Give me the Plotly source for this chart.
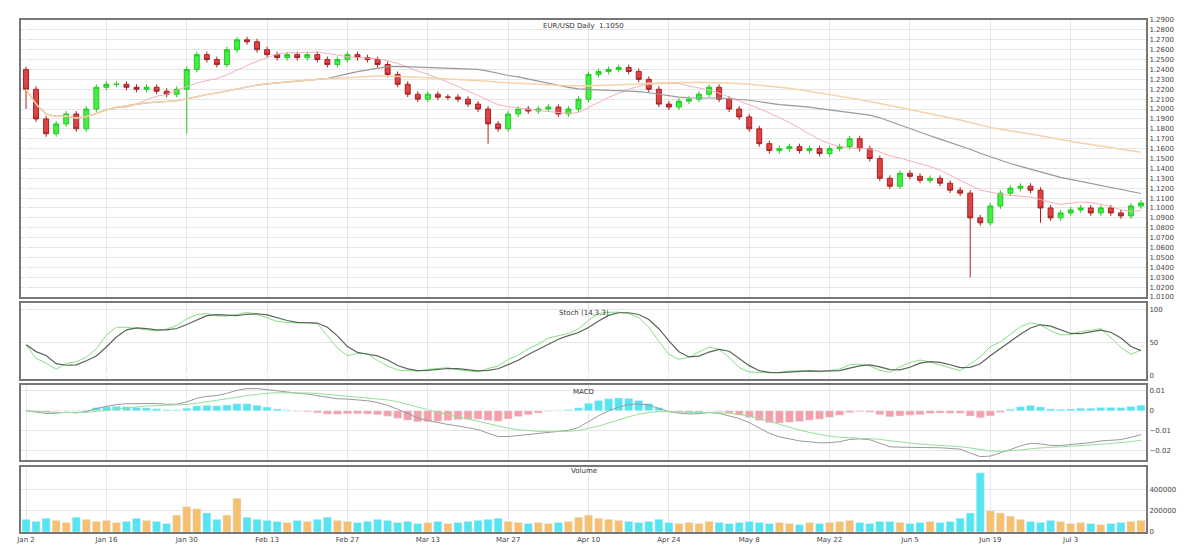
import numpy as np
import pandas as pd
import plotly.graph_objects as go
from plotly.subplots import make_subplots

# daily closes (one per candle)
closes = [1.220, 1.190, 1.175, 1.185, 1.195, 1.180, 1.200, 1.222, 1.225, 1.225,
          1.222, 1.220, 1.222, 1.218, 1.215, 1.220, 1.240, 1.255, 1.250, 1.245,
          1.260, 1.270, 1.268, 1.260, 1.255, 1.252, 1.255, 1.252, 1.255, 1.250,
          1.245, 1.250, 1.255, 1.252, 1.250, 1.245, 1.235, 1.225, 1.215, 1.210,
          1.215, 1.212, 1.212, 1.210, 1.205, 1.200, 1.185, 1.180, 1.195, 1.200,
          1.198, 1.200, 1.202, 1.195, 1.200, 1.210, 1.235, 1.238, 1.240, 1.242,
          1.238, 1.230, 1.220, 1.205, 1.202, 1.208, 1.210, 1.215, 1.222, 1.210,
          1.200, 1.192, 1.180, 1.165, 1.158, 1.160, 1.162, 1.158, 1.160, 1.155,
          1.160, 1.162, 1.170, 1.160, 1.150, 1.130, 1.122, 1.135, 1.132, 1.128,
          1.130, 1.125, 1.118, 1.115, 1.090, 1.085, 1.102, 1.115, 1.120, 1.122,
          1.118, 1.100, 1.090, 1.095, 1.098, 1.100, 1.095, 1.100, 1.095, 1.092,
          1.102, 1.105]
wick_lows = {0: 1.200, 16: 1.175, 46: 1.165, 94: 1.030, 101: 1.085}

volume = [1.2, 1.0, 1.3, 1.1, 0.9, 1.4, 1.2, 1.0, 1.1, 0.9,
          1.0, 1.3, 1.1, 1.0, 0.8, 1.6, 2.4, 2.2, 1.8, 1.2,
          1.6, 3.2, 1.4, 1.2, 1.1, 1.0, 0.9, 1.1, 1.0, 1.2,
          1.4, 1.1, 1.0, 0.9, 1.0, 1.2, 1.1, 0.9, 1.0, 0.8,
          0.9, 1.0, 0.8, 0.9, 1.0, 1.1, 1.2, 1.3, 1.0, 0.9,
          0.8, 0.9, 0.8, 0.9, 1.0, 1.4, 1.6, 1.3, 1.2, 1.1,
          1.0, 0.9, 1.0, 1.2, 0.9, 0.8, 0.9, 0.8, 1.0, 0.9,
          0.8, 0.9, 1.0, 0.9, 0.8, 0.9, 0.8, 0.7, 0.9, 0.8,
          0.9, 1.0, 1.1, 0.9, 0.8, 1.0, 1.0, 0.9, 0.8, 0.9,
          1.0, 0.9, 1.0, 1.3, 1.8, 5.6, 2.0, 1.8, 1.5, 1.2,
          1.0, 0.9, 1.1, 1.0, 0.8, 0.9, 0.8, 0.7, 0.8, 0.9,
          1.0, 1.1]

date_labels = ["Jan 2", "Jan 16", "Jan 30", "Feb 13", "Feb 27", "Mar 13", "Mar 27",
               "Apr 10", "Apr 24", "May 8", "May 22", "Jun 5", "Jun 19", "Jul 3"]

close = pd.Series(closes)
opens = close.shift(1).fillna(close.iloc[0] + 0.02)
highs = np.maximum(opens, close) + 0.003
lows = np.minimum(opens, close) - 0.003
for i, v in wick_lows.items():
    lows[i] = v
x = list(range(len(closes)))
up = close >= opens

ma1 = close.rolling(10, min_periods=1).mean()
ma2 = close.rolling(30, min_periods=1).mean()
ma3 = close.rolling(60, min_periods=1).mean()

lo14 = pd.Series(lows).rolling(14, min_periods=1).min()
hi14 = pd.Series(highs).rolling(14, min_periods=1).max()
k = (100 * (close - lo14) / (hi14 - lo14)).rolling(3, min_periods=1).mean()
d = k.rolling(3, min_periods=1).mean()

ema12 = close.ewm(span=12).mean()
ema26 = close.ewm(span=26).mean()
macd = ema12 - ema26
sig = macd.ewm(span=9).mean()
hist = macd - sig

fig = make_subplots(rows=4, cols=1, shared_xaxes=True, vertical_spacing=0.012,
                    row_heights=[0.55, 0.15, 0.15, 0.13])

fig.add_trace(go.Candlestick(x=x, open=opens, high=highs, low=lows, close=close,
                             increasing=dict(line=dict(color="#22cc22", width=1), fillcolor="#44ee44"),
                             decreasing=dict(line=dict(color="#aa2222", width=1), fillcolor="#dd4444"),
                             whiskerwidth=0), row=1, col=1)
fig.add_trace(go.Scatter(x=x, y=ma1, line=dict(color="#f4b0b8", width=1)), row=1, col=1)
fig.add_trace(go.Scatter(x=x, y=ma2, line=dict(color="#999999", width=1.2)), row=1, col=1)
fig.add_trace(go.Scatter(x=x, y=ma3, line=dict(color="#f5d3a8", width=1.5)), row=1, col=1)

fig.add_trace(go.Scatter(x=x, y=k, line=dict(color="#88dd88", width=1)), row=2, col=1)
fig.add_trace(go.Scatter(x=x, y=d, line=dict(color="#556655", width=1.2)), row=2, col=1)

fig.add_trace(go.Bar(x=x, y=hist, marker_color=["#55e5f0" if h >= 0 else "#f5a0a8" for h in hist]),
              row=3, col=1)
fig.add_trace(go.Scatter(x=x, y=macd, line=dict(color="#999999", width=1)), row=3, col=1)
fig.add_trace(go.Scatter(x=x, y=sig, line=dict(color="#99dd99", width=1)), row=3, col=1)

fig.add_trace(go.Bar(x=x, y=volume, marker_color=["#f5c070" if u else "#55e5f0" for u in up]),
              row=4, col=1)

fig.update_layout(width=1200, height=546, showlegend=False, paper_bgcolor="white",
                  plot_bgcolor="white", margin=dict(l=10, r=62, t=8, b=22), bargap=0.2,
                  font=dict(family="DejaVu Sans", size=7, color="#444444"))
for r in range(1, 5):
    fig.update_xaxes(row=r, col=1, showgrid=True, gridcolor="#e6e6e6", rangeslider_visible=False,
                     mirror=True, showline=True, linecolor="#777777", linewidth=2,
                     range=[-0.5, len(x) - 0.5], tickvals=list(range(0, len(x), 8)),
                     ticktext=date_labels, showticklabels=(r == 4))
    fig.update_yaxes(row=r, col=1, side="right", showgrid=True, gridcolor="#e6e6e6",
                     mirror=True, showline=True, linecolor="#777777", linewidth=2)
fig.update_yaxes(row=1, col=1, dtick=0.01, tickformat=".4f", range=[1.01, 1.29])
fig.update_yaxes(row=2, col=1, range=[-5, 110], tickvals=[0, 50, 100])
fig.update_yaxes(row=4, col=1, range=[0, 6.2], tickvals=[0, 2, 4], ticktext=["0", "200000", "400000"])

titles = [("EUR/USD Daily  1.1050", 1.0), ("Stoch (14,3,3)", 0.44), ("MACD", 0.285), ("Volume", 0.13)]
for t, yy in titles:
    fig.add_annotation(text=t, xref="paper", yref="paper", x=0.5, y=yy, showarrow=False,
                       yanchor="top", font=dict(size=7, color="#333333"))

fig.write_html("out.html")
